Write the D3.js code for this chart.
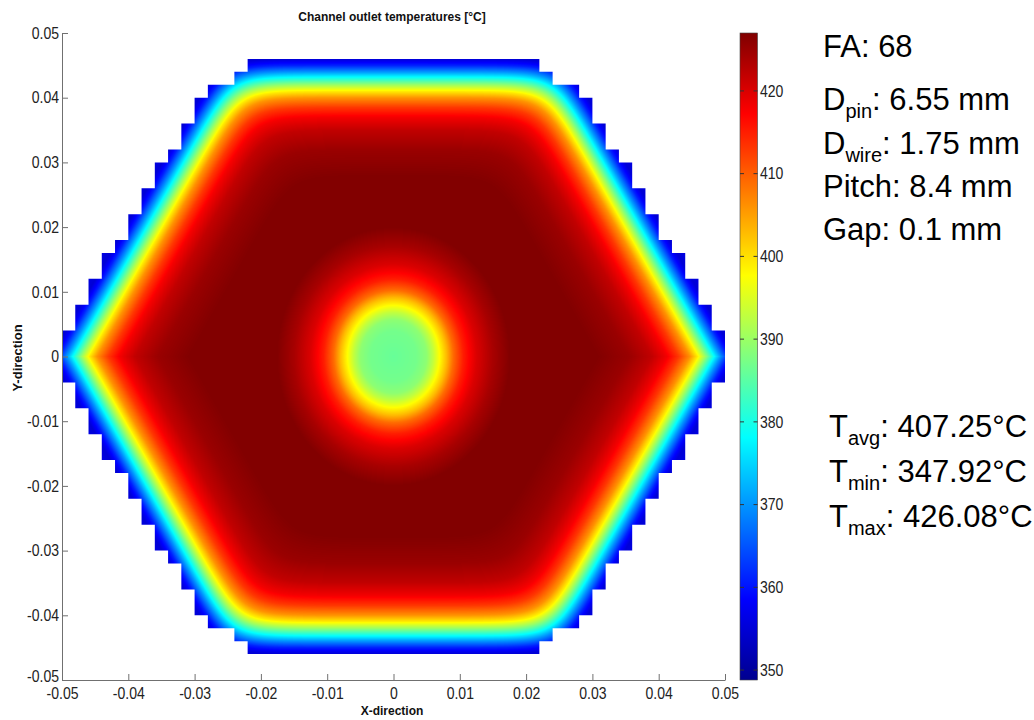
<!DOCTYPE html>
<meta charset="utf-8">
<style>
body { margin: 0; background: #fff; }
svg { display: block; }
.axis .tick text, .cbar text {
  font-family: "Liberation Sans", Arial, sans-serif;
  font-size: 16.5px;
  fill: #222;
}
.axis path, .axis line { stroke: #707070; }
.lbl { font-family: "Liberation Sans", Arial, sans-serif; font-weight: bold; fill: #111; }
.note { font-family: "Liberation Sans", Arial, sans-serif; fill: #000; }
</style>
<svg width="1034" height="720"></svg>
<script src="https://cdnjs.cloudflare.com/ajax/libs/d3/7.8.5/d3.min.js"></script>
<script>

// axis ticks (m)
var axisTicks  = [-0.05, -0.04, -0.03, -0.02, -0.01, 0, 0.01, 0.02, 0.03, 0.04, 0.05];
var axisLabels = ["-0.05", "-0.04", "-0.03", "-0.02", "-0.01", "0", "0.01", "0.02", "0.03", "0.04", "0.05"];

// channel grid: half height (rows of 2 mm) of each 2 mm column, left half; right half is mirrored
var colHalfRows = [2, 4, 6, 8, 9, 11, 13, 15, 16, 18, 20, 21, 21, 22, 23, 23, 23, 23, 23, 23, 23, 23, 23, 23, 23];

// outlet temperature against distance in from the wrapper wall (mm)
var wallDist = [-2, 0, 1, 2, 3, 4, 5, 6, 7.5, 9, 11, 14, 18];
var wallTemp = [357, 355, 361, 370, 380, 390, 399, 406, 413, 418, 422, 425, 426.8];

// outlet temperature against radius from the assembly centre (mm)
var coreRad  = [0, 3.5, 5, 6, 7, 8, 9, 10.5, 12.5, 15, 17.5];
var coreTemp = [386, 387, 389, 393, 398, 403, 409, 415, 420, 424, 426.8];

// colour bar
var cbarTicks = [350, 360, 370, 380, 390, 400, 410, 420];
var tempRange = [348.8, 427];
var jetPos    = [0, 0.125, 0.375, 0.625, 0.875, 1];
var jetColors = ["#00008f", "#0000ff", "#00ffff", "#ffff00", "#ff0000", "#800000"];

// side notes: [main, subscript, rest]
var specs = [["FA", "", ": 68"], ["D", "pin", ": 6.55 mm"], ["D", "wire", ": 1.75 mm"], ["Pitch", "", ": 8.4 mm"], ["Gap", "", ": 0.1 mm"]];
var stats = [["T", "avg", ": 407.25°C"], ["T", "min", ": 347.92°C"], ["T", "max", ": 426.08°C"]];

var svg = d3.select("svg");

var x = d3.scaleLinear().domain([-0.05, 0.05]).range([62, 725]);
var y = d3.scaleLinear().domain([-0.05, 0.05]).range([680, 33]);

var color = d3.scaleLinear()
    .domain(jetPos.map(function(p) { return tempRange[0] + p * (tempRange[1] - tempRange[0]); }))
    .range(jetColors)
    .clamp(true);

var wallT = d3.scaleLinear().domain(wallDist).range(wallTemp).clamp(true);
var coreT = d3.scaleLinear().domain(coreRad).range(coreTemp).clamp(true);
var plateau = wallTemp[wallTemp.length - 1];

// lookup table for the colour map
var lut = d3.range(512).map(function(i) {
  return d3.rgb(color(tempRange[0] + i / 511 * (tempRange[1] - tempRange[0])));
});

// hexagon used for the smooth field (mm): flat top at 46, side vertex at 51.6
var hexTop = 46, hexTip = 51.6, hexCorner = 26;
var nLen = Math.hypot(hexTop, hexTip - hexCorner);
var nx = hexTop / nLen, ny = (hexTip - hexCorner) / nLen;
var k = 2;

var x0 = x.range()[0], y0 = y.range()[1];
var W = Math.round(x.range()[1] - x0), H = Math.round(y.range()[0] - y0);
var canvas = document.createElement("canvas");
canvas.width = W; canvas.height = H;
var ctx = canvas.getContext("2d");
var img = ctx.createImageData(W, H);
for (var py = 0; py < H; py++) {
  for (var px = 0; px < W; px++) {
    var vx = x.invert(x0 + px + 0.5) * 1000, vy = y.invert(y0 + py + 0.5) * 1000;
    var ax = Math.abs(vx), ay = Math.abs(vy);
    var d1 = hexTop - ay, d2 = (hexTip - ax) * nx - ay * ny;
    var d = -k * Math.log(Math.exp(-d1 / k) + Math.exp(-d2 / k));
    var t = wallT(d) + coreT(Math.hypot(vx, vy * 0.88)) - plateau;
    var li = Math.max(0, Math.min(511, Math.round((t - tempRange[0]) / (tempRange[1] - tempRange[0]) * 511)));
    var c = lut[li], o = (py * W + px) * 4;
    img.data[o] = c.r; img.data[o + 1] = c.g; img.data[o + 2] = c.b; img.data[o + 3] = 255;
  }
}
ctx.putImageData(img, 0, 0);

// clip to the channel cells (staircase outline)
var cols = d3.range(50).map(function(c) {
  return { x: -0.05 + c * 0.002, h: colHalfRows[c < 25 ? c : 49 - c] * 0.002 };
});
var outline = [];
cols.forEach(function(d) { outline.push([x(d.x), y(d.h)], [x(d.x + 0.002), y(d.h)]); });
cols.slice().reverse().forEach(function(d) { outline.push([x(d.x + 0.002), y(-d.h)], [x(d.x), y(-d.h)]); });

var defs = svg.append("defs");
defs.append("clipPath").attr("id", "cells")
  .append("path")
    .attr("d", d3.line()(outline) + "Z");

svg.append("image")
    .attr("x", x0).attr("y", y0)
    .attr("width", W).attr("height", H)
    .attr("preserveAspectRatio", "none")
    .attr("href", canvas.toDataURL())
    .attr("clip-path", "url(#cells)");

// narrow the tick labels like the original
function squeeze(sel) {
  sel.each(function() {
    var w = this.getComputedTextLength();
    d3.select(this).attr("textLength", w * 0.85).attr("lengthAdjust", "spacingAndGlyphs");
  });
}

// axes
var yAxis = svg.append("g")
    .attr("class", "axis")
    .attr("transform", "translate(" + x0 + ",0)")
    .call(d3.axisLeft(y).tickValues(axisTicks)
      .tickFormat(function(d, i) { return axisLabels[i]; })
      .tickSizeInner(-6).tickSizeOuter(0).tickPadding(3));
yAxis.selectAll(".tick text").call(squeeze);
// lowest label sits a little higher so it clears the x labels
yAxis.selectAll(".tick text").filter(function(d) { return d === axisTicks[0]; }).attr("dy", "0.1em");

svg.append("g")
    .attr("class", "axis")
    .attr("transform", "translate(0," + y.range()[0] + ")")
    .call(d3.axisBottom(x).tickValues(axisTicks)
      .tickFormat(function(d, i) { return axisLabels[i]; })
      .tickSizeInner(-6).tickSizeOuter(0).tickPadding(7))
  .selectAll(".tick text").call(squeeze);

svg.append("text")
    .attr("class", "lbl")
    .attr("x", 392).attr("y", 21)
    .attr("text-anchor", "middle")
    .attr("font-size", 12)
    .text("Channel outlet temperatures [°C]");

svg.append("text")
    .attr("class", "lbl")
    .attr("x", 392).attr("y", 715)
    .attr("text-anchor", "middle")
    .attr("font-size", 12)
    .text("X-direction");

svg.append("text")
    .attr("class", "lbl")
    .attr("transform", "translate(22,358) rotate(-90)")
    .attr("text-anchor", "middle")
    .attr("font-size", 13)
    .text("Y-direction");

// colour bar
var cy = d3.scaleLinear().domain(tempRange).range([680, 33]);
var grad = defs.append("linearGradient").attr("id", "jet")
    .attr("x1", 0).attr("y1", 1).attr("x2", 0).attr("y2", 0);
grad.selectAll("stop")
  .data(jetPos)
  .enter().append("stop")
    .attr("offset", function(d) { return d; })
    .attr("stop-color", function(d, i) { return jetColors[i]; });

var cb = svg.append("g").attr("class", "cbar");
cb.append("rect")
    .attr("x", 740).attr("y", cy(tempRange[1]))
    .attr("width", 17.5).attr("height", cy(tempRange[0]) - cy(tempRange[1]))
    .attr("fill", "url(#jet)")
    .attr("stroke", "#444").attr("stroke-width", 0.6);

var ct = cb.selectAll("g.ct")
  .data(cbarTicks)
  .enter().append("g")
    .attr("class", "ct")
    .attr("transform", function(d) { return "translate(0," + cy(d) + ")"; });
ct.append("line").attr("x1", 740).attr("x2", 744).attr("stroke", "#333");
ct.append("line").attr("x1", 753.5).attr("x2", 757.5).attr("stroke", "#333");
ct.append("text").attr("x", 760).attr("dy", "0.35em").text(function(d) { return d; }).call(squeeze);

// side notes
function note(rows, xPos, baselines) {
  rows.forEach(function(r, i) {
    var t = svg.append("text")
        .attr("class", "note")
        .attr("x", xPos).attr("y", baselines[i])
        .attr("font-size", 31);
    t.append("tspan").text(r[0]);
    if (r[1]) {
      t.append("tspan").attr("font-size", 20).attr("dy", 8).text(r[1]);
      t.append("tspan").attr("dy", -8).text(r[2]);
    } else {
      t.append("tspan").text(r[2]);
    }
  });
}
note(specs, 823, [57, 110, 154, 197, 240]);
note(stats, 829, [437, 482, 527]);

</script>
